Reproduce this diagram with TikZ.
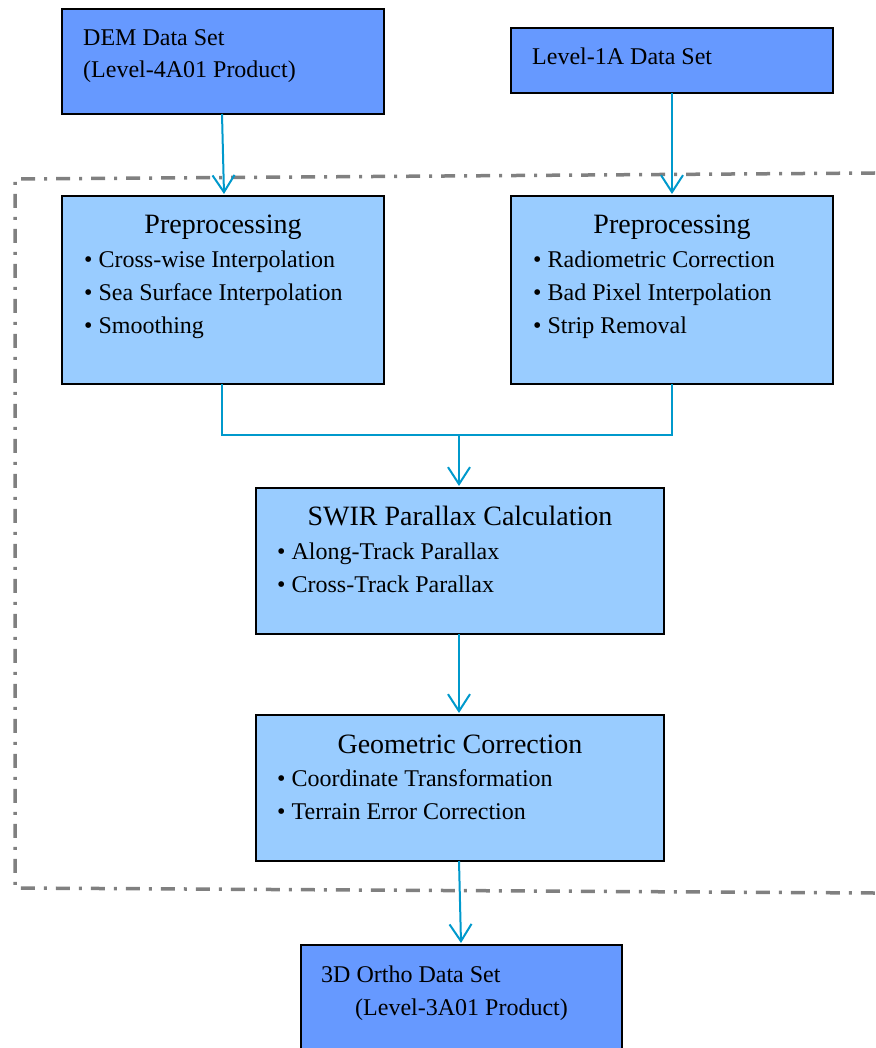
\documentclass[tikz,border=0pt]{standalone}
\usepackage{fontspec}
\setmainfont{Liberation Serif}
\usetikzlibrary{arrows.meta}
\definecolor{darkbox}{HTML}{6699FF}
\definecolor{lightbox}{HTML}{99CCFF}
\definecolor{arrowc}{HTML}{0099CC}
\definecolor{frameg}{HTML}{808080}
\tikzset{
  databox/.style={draw=black,line width=2.5pt,fill=darkbox,inner sep=0pt},
  procbox/.style={draw=black,line width=2.5pt,fill=lightbox,inner sep=0pt},
  txt/.style={anchor=base west,inner sep=0pt,font=\fontsize{24}{28}\selectfont},
  ttl/.style={anchor=base,inner sep=0pt,font=\fontsize{28}{32}\selectfont},
  flow/.style={draw=arrowc,line width=2pt,-{Straight Barb[length=17pt,width=22pt,line width=2pt]}},
  flowline/.style={draw=arrowc,line width=2pt},
  frame/.style={draw=frameg,line width=3.5pt,dash pattern=on 14pt off 9pt on 3pt off 9pt}
}
\begin{document}
\begin{tikzpicture}[x=1pt,y=-1pt]
\useasboundingbox (0,0) rectangle (875,1048);
% dash-dot frame
\draw[frame] (875,173) -- (15,179) -- (15,888) -- (875,893);
% boxes
\path[databox] (62,9) rectangle (384,114) node[pos=0.5] (dem) {};
\path[databox] (511,28) rectangle (833,93) node[pos=0.5] (l1a) {};
\path[procbox] (62,196) rectangle (384,384) node[pos=0.5] (preL) {};
\path[procbox] (511,196) rectangle (833,384) node[pos=0.5] (preR) {};
\path[procbox] (256,488) rectangle (664,634) node[pos=0.5] (swir) {};
\path[procbox] (256,715) rectangle (664,861) node[pos=0.5] (geo) {};
\path[databox] (301,945) rectangle (622,1060) node[pos=0.5] (ortho) {};
% anchor coordinates
\coordinate (demB) at (222,114);
\coordinate (preLT) at (224,194);
\coordinate (l1aB) at (672,93);
\coordinate (preRT) at (672,194);
\coordinate (preLB) at (222,384);
\coordinate (preRB) at (672,384);
\coordinate (j1) at (222,435);
\coordinate (j2) at (672,435);
\coordinate (jm) at (459,435);
\coordinate (swirT) at (459,486);
\coordinate (swirB) at (459,634);
\coordinate (geoT) at (459,713);
\coordinate (geoB) at (459,861);
\coordinate (orthoT) at (461,943);
% texts
\node[txt] (t1) at (83,46) {DEM Data Set};
\node[txt] (t2) at (83,78) {(Level-4A01 Product)};
\node[txt] (t3) at (532,65) {Level-1A Data Set};
\node[ttl] (h1) at (223,234) {Preprocessing};
\node[txt] (b11) at (84,268) {\textbullet\ Cross-wise Interpolation};
\node[txt] (b12) at (84,300) {\textbullet\ Sea Surface Interpolation};
\node[txt] (b13) at (84,333) {\textbullet\ Smoothing};
\node[ttl] (h2) at (672,234) {Preprocessing};
\node[txt] (b21) at (533,268) {\textbullet\ Radiometric Correction};
\node[txt] (b22) at (533,300) {\textbullet\ Bad Pixel Interpolation};
\node[txt] (b23) at (533,333) {\textbullet\ Strip Removal};
\node[ttl] (h3) at (460,525) {SWIR Parallax Calculation};
\node[txt] (b31) at (277,559) {\textbullet\ Along-Track Parallax};
\node[txt] (b32) at (277,592) {\textbullet\ Cross-Track Parallax};
\node[ttl] (h4) at (460,753) {Geometric Correction};
\node[txt] (b41) at (277,786) {\textbullet\ Coordinate Transformation};
\node[txt] (b42) at (277,819) {\textbullet\ Terrain Error Correction};
\node[txt] (t4) at (321,982) {3D Ortho Data Set};
\node[txt] (t5) at (355,1015) {(Level-3A01 Product)};
% connectors
\draw[flow] (demB) -- (preLT);
\draw[flow] (l1aB) -- (preRT);
\draw[flowline] (preLB) -- (j1) -- (j2) -- (preRB);
\draw[flow] (jm) -- (swirT);
\draw[flow] (swirB) -- (geoT);
\draw[flow] (geoB) -- (orthoT);
\end{tikzpicture}
\end{document}
